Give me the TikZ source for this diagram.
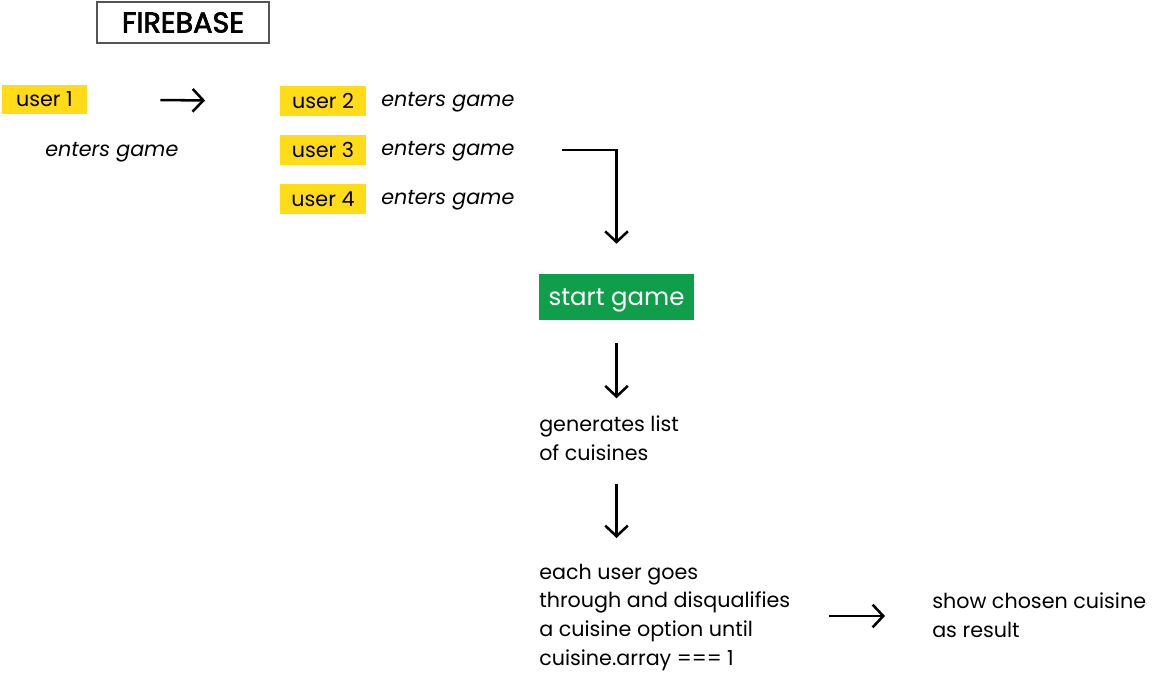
\documentclass[tikz,border=0pt]{standalone}
\usepackage{fontspec}
\setmainfont{Poppins}
\newfontfamily\fbfont[FakeBold=2.5]{Poppins}
\usetikzlibrary{arrows.meta,calc}
\definecolor{uyellow}{HTML}{FFDC17}
\definecolor{sgreen}{HTML}{0F9F4A}
\definecolor{fbgray}{HTML}{555555}
\tikzset{
  ubox/.style={fill=uyellow, minimum width=64pt, minimum height=22pt, inner sep=0pt, font=\fontsize{15.5}{18}\selectfont},
  etxt/.style={anchor=base west, inner sep=0pt, font=\fontsize{15.5}{18}\selectfont\itshape},
  btxt/.style={anchor=base west, inner sep=0pt, align=left, font=\fontsize{15.5}{21.5}\selectfont},
  arr/.style={line width=1.9pt, -{Straight Barb[length=8pt,width=17pt,line width=1.9pt]}},
}
\begin{document}
\begin{tikzpicture}[x=0.75pt,y=-0.75pt]
\useasboundingbox (0,0) rectangle (1157,672);
\node[draw=fbgray, line width=1.1pt, minimum width=129pt, minimum height=31pt, inner sep=0pt, font=\fbfont\fontsize{21.5}{23}\selectfont] (fb) at (183,22.5) {FIREBASE};
\node[ubox] (u1) at (44.5,99.5) {user 1};
\node[etxt] (e1) at (45,156) {enters game};
\node[ubox] (u2) at (323,101) {user 2};
\node[ubox] (u3) at (323,150) {user 3};
\node[ubox] (u4) at (323,199) {user 4};
\node[etxt] (e2) at (381,106) {enters game};
\node[etxt] (e3) at (381,155) {enters game};
\node[etxt] (e4) at (381,204) {enters game};
\node[fill=sgreen, text=white, minimum width=116pt, minimum height=34.5pt, inner sep=0pt, font=\fontsize{18.3}{20}\selectfont] (sg) at (616.5,297) {\raisebox{-2.2pt}[\height][\depth]{start game}};
\node[btxt] (gen) at (539,460) {generates list\\of cuisines};
\node[btxt] (each) at (539,665) {each user goes\\through and disqualifies\\a cuisine option until\\cuisine.array === 1};
\node[btxt] (show) at (932,637) {show chosen cuisine\\as result};
\draw[arr, shorten <=54.75pt, shorten >=56.25pt] (u1.east) -- (u2.west);
\draw[arr, shorten <=35.25pt, shorten >=22.5pt] (e3.east |- 0,150) -| (sg.north);
\draw[arr, shorten <=17.25pt] (sg.south) -- ($(sg.south)+(0,78)$) coordinate (g1);
\draw[arr] (sg.south |- 0,484) coordinate (g2s) -- (sg.south |- 0,538);
\draw[arr] (829,616) -- (885,616);
\end{tikzpicture}
\end{document}
